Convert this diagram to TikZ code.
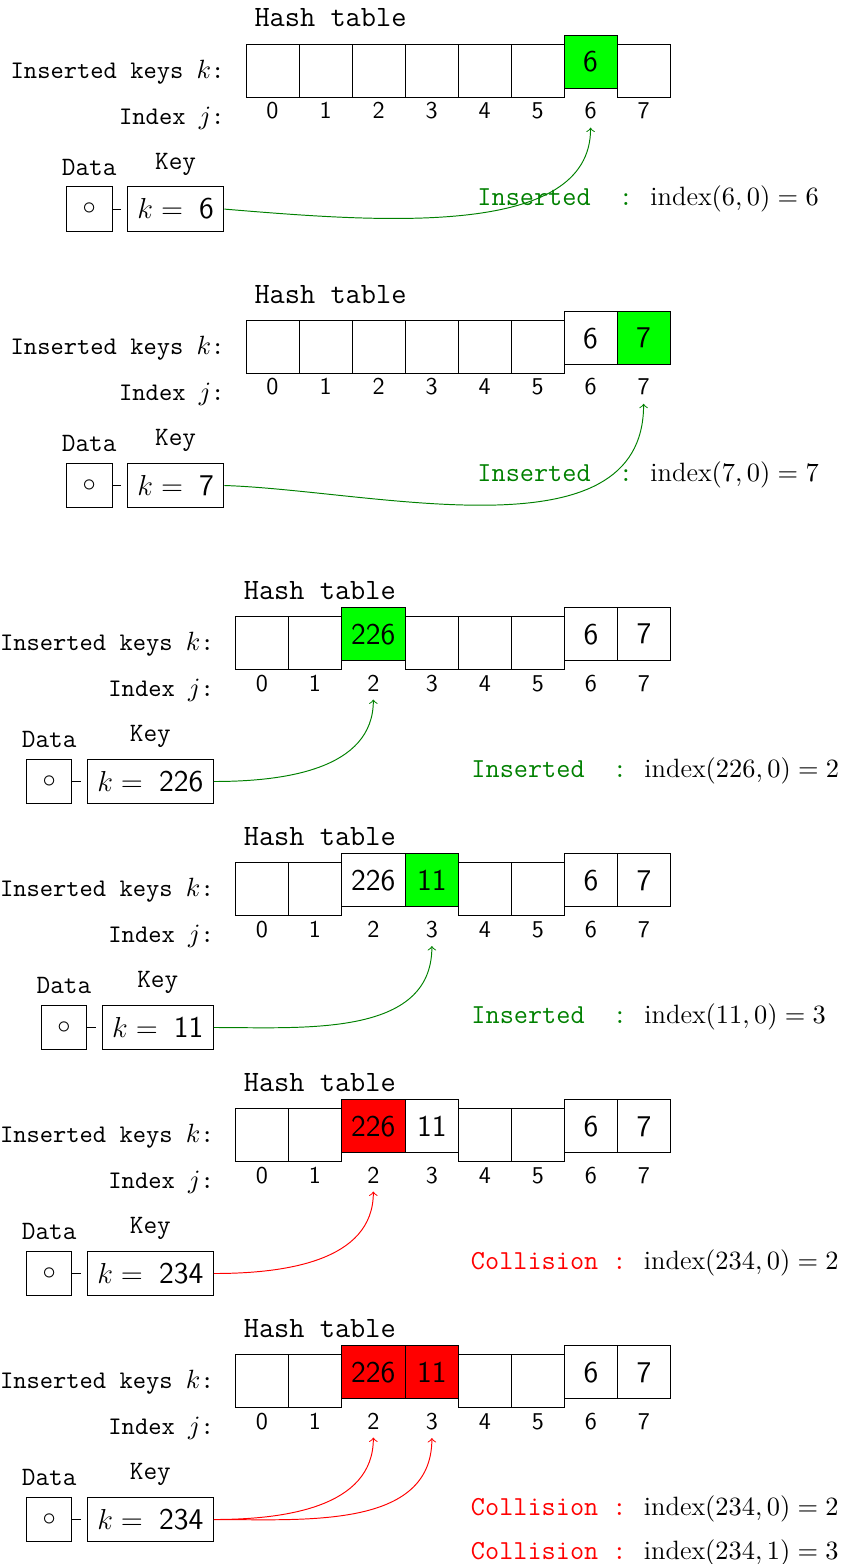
\documentclass[tikz,border=0pt]{standalone}
\usepackage{fontspec}
\usetikzlibrary{positioning}
\colorlet{okgreen}{green!50!black}
\begin{document}
\begin{tikzpicture}[x=0.415pt, y=-0.415pt,
  cell/.style={draw, anchor=west, minimum width=22pt, minimum height=22pt, inner xsep=4.1pt, outer sep=0pt, font=\fontsize{12.5}{14}\selectfont\sffamily},
  free/.style={},
  full/.style={yshift=3.7pt},
  newkey/.style={full, fill=green},
  clash/.style={full, fill=red},
  idx/.style={anchor=base, font=\fontsize{10}{12}\selectfont\sffamily},
  lab/.style={anchor=base east, inner sep=0pt, font=\fontsize{10.5}{12}\selectfont\ttfamily},
  title/.style={anchor=south west, font=\fontsize{12.25}{14}\selectfont\ttfamily},
  databox/.style={draw, minimum width=18.9pt, minimum height=18.4pt, inner sep=0pt, font=\fontsize{11}{13}\selectfont},
  keybox/.style={draw, anchor=east, minimum height=18.4pt, inner xsep=4.1pt, font=\fontsize{12}{14}\selectfont},
  boxlab/.style={font=\fontsize{11}{13}\selectfont\ttfamily},
  status/.style={anchor=base west, inner sep=0pt, font=\fontsize{11}{13}\selectfont},
  okarrow/.style={->, okgreen},
  badarrow/.style={->, red}
]
\useasboundingbox (0,0) rectangle (844,1564);

% 1: key 6
\coordinate (r1) at (246,70.8);
\coordinate (j1) at (246,118.6);
\node[cell] (t1c0) at (r1) {};
\foreach \v/\s [count=\i from 1, remember=\i as \j (initially 0)] in {/free,/free,/free,/free,/free,6/newkey,/free}
  \node[cell,\s] (t1c\i) at (t1c\j.east |- r1) {\v};
\foreach \i in {0,...,7} \node[idx] (t1i\i) at (t1c\i.center |- j1) {\i};
\node[title] (h1) at ([yshift=3.7pt]t1c0.north west) {Hash table};
\node[lab] (rowk1) at (225,78.3) {Inserted keys $k$:};
\node[lab] (rowj1) at (225,124.3) {Index $j$:};
\node[keybox] (k1) at (224.3,209.1) {$k =$\hspace{6.7pt}{\fontsize{12.5}{14}\selectfont\sffamily 6}};
\node[databox, left=6pt of k1] (d1) {$\circ$};
\node[boxlab, above=1pt of d1] (dlab1) {Data};
\node[boxlab, above=1pt of k1] (klab1) {Key};
\draw (d1.east) -- ([xshift=-2.5pt]k1.west);
\node[status] (s1) at (477,205.3) {{\color{okgreen}\fontsize{11.4}{13}\selectfont\texttt{Inserted\ \ :}}\hspace{7.2pt}$\mathrm{index}(6,0)=6$};
\draw[okarrow] (k1.east) .. controls +(156,13) and +(0,111) .. (t1i6.south);

% 2: key 7
\coordinate (r2) at (246,347.2);
\coordinate (j2) at (246,395);
\node[cell] (t2c0) at (r2) {};
\foreach \v/\s [count=\i from 1, remember=\i as \j (initially 0)] in {/free,/free,/free,/free,/free,6/full,7/newkey}
  \node[cell,\s] (t2c\i) at (t2c\j.east |- r2) {\v};
\foreach \i in {0,...,7} \node[idx] (t2i\i) at (t2c\i.center |- j2) {\i};
\node[title] (h2) at ([yshift=3.7pt]t2c0.north west) {Hash table};
\node[lab] (rowk2) at (225,354.7) {Inserted keys $k$:};
\node[lab] (rowj2) at (225,400.7) {Index $j$:};
\node[keybox] (k2) at (224.3,485.5) {$k =$\hspace{6.7pt}{\fontsize{12.5}{14}\selectfont\sffamily 7}};
\node[databox, left=6pt of k2] (d2) {$\circ$};
\node[boxlab, above=1pt of d2] (dlab2) {Data};
\node[boxlab, above=1pt of k2] (klab2) {Key};
\draw (d2.east) -- ([xshift=-2.5pt]k2.west);
\node[status] (s2) at (477,481.7) {{\color{okgreen}\fontsize{11.4}{13}\selectfont\texttt{Inserted\ \ :}}\hspace{7.2pt}$\mathrm{index}(7,0)=7$};
\draw[okarrow] (k2.east) .. controls +(150,5) and +(0,156) .. (t2i7.south);

% 3: key 226
\coordinate (r3) at (235.3,643.2);
\coordinate (j3) at (235.3,691);
\node[cell] (t3c0) at (r3) {};
\foreach \v/\s [count=\i from 1, remember=\i as \j (initially 0)] in {/free,226/newkey,/free,/free,/free,6/full,7/full}
  \node[cell,\s] (t3c\i) at (t3c\j.east |- r3) {\v};
\foreach \i in {0,...,7} \node[idx] (t3i\i) at (t3c\i.center |- j3) {\i};
\node[title] (h3) at ([yshift=3.7pt]t3c0.north west) {Hash table};
\node[lab] (rowk3) at (214.3,650.7) {Inserted keys $k$:};
\node[lab] (rowj3) at (214.3,696.7) {Index $j$:};
\node[keybox] (k3) at (213.8,781.5) {$k =$\hspace{6.7pt}{\fontsize{12.5}{14}\selectfont\sffamily 226}};
\node[databox, left=6pt of k3] (d3) {$\circ$};
\node[boxlab, above=1pt of d3] (dlab3) {Data};
\node[boxlab, above=1pt of k3] (klab3) {Key};
\draw (d3.east) -- ([xshift=-2.5pt]k3.west);
\node[status] (s3) at (471,777.3) {{\color{okgreen}\fontsize{11.4}{13}\selectfont\texttt{Inserted\ \ :}}\hspace{7.2pt}$\mathrm{index}(226,0)=2$};
\draw[okarrow] (k3.east) to[out=0, in=-90] (t3i2.south);

% 4: key 11
\coordinate (r4) at (235.3,889.2);
\coordinate (j4) at (235.3,937);
\node[cell] (t4c0) at (r4) {};
\foreach \v/\s [count=\i from 1, remember=\i as \j (initially 0)] in {/free,226/full,11/newkey,/free,/free,6/full,7/full}
  \node[cell,\s] (t4c\i) at (t4c\j.east |- r4) {\v};
\foreach \i in {0,...,7} \node[idx] (t4i\i) at (t4c\i.center |- j4) {\i};
\node[title] (h4) at ([yshift=3.7pt]t4c0.north west) {Hash table};
\node[lab] (rowk4) at (214.3,896.7) {Inserted keys $k$:};
\node[lab] (rowj4) at (214.3,942.7) {Index $j$:};
\node[keybox] (k4) at (213.8,1027.5) {$k =$\hspace{6.7pt}{\fontsize{12.5}{14}\selectfont\sffamily 11}};
\node[databox, left=6pt of k4] (d4) {$\circ$};
\node[boxlab, above=1pt of d4] (dlab4) {Data};
\node[boxlab, above=1pt of k4] (klab4) {Key};
\draw (d4.east) -- ([xshift=-2.5pt]k4.west);
\node[status] (s4) at (471,1023.7) {{\color{okgreen}\fontsize{11.4}{13}\selectfont\texttt{Inserted\ \ :}}\hspace{7.2pt}$\mathrm{index}(11,0)=3$};
\draw[okarrow] (k4.east) to[out=0, in=-90] (t4i3.south);

% 5: key 234, first try
\coordinate (r5) at (235.3,1135.2);
\coordinate (j5) at (235.3,1183);
\node[cell] (t5c0) at (r5) {};
\foreach \v/\s [count=\i from 1, remember=\i as \j (initially 0)] in {/free,226/clash,11/full,/free,/free,6/full,7/full}
  \node[cell,\s] (t5c\i) at (t5c\j.east |- r5) {\v};
\foreach \i in {0,...,7} \node[idx] (t5i\i) at (t5c\i.center |- j5) {\i};
\node[title] (h5) at ([yshift=3.7pt]t5c0.north west) {Hash table};
\node[lab] (rowk5) at (214.3,1142.7) {Inserted keys $k$:};
\node[lab] (rowj5) at (214.3,1188.7) {Index $j$:};
\node[keybox] (k5) at (213.8,1273.5) {$k =$\hspace{6.7pt}{\fontsize{12.5}{14}\selectfont\sffamily 234}};
\node[databox, left=6pt of k5] (d5) {$\circ$};
\node[boxlab, above=1pt of d5] (dlab5) {Data};
\node[boxlab, above=1pt of k5] (klab5) {Key};
\draw (d5.east) -- ([xshift=-2.5pt]k5.west);
\node[status] (s5) at (470.5,1269.7) {{\color{red}\fontsize{11.4}{13}\selectfont\texttt{Collision :}}\hspace{7.2pt}$\mathrm{index}(234,0)=2$};
\draw[badarrow] (k5.east) to[out=0, in=-90] (t5i2.south);

% 6: key 234, probing
\coordinate (r6) at (235.3,1381.2);
\coordinate (j6) at (235.3,1429);
\node[cell] (t6c0) at (r6) {};
\foreach \v/\s [count=\i from 1, remember=\i as \j (initially 0)] in {/free,226/clash,11/clash,/free,/free,6/full,7/full}
  \node[cell,\s] (t6c\i) at (t6c\j.east |- r6) {\v};
\foreach \i in {0,...,7} \node[idx] (t6i\i) at (t6c\i.center |- j6) {\i};
\node[title] (h6) at ([yshift=3.7pt]t6c0.north west) {Hash table};
\node[lab] (rowk6) at (214.3,1388.7) {Inserted keys $k$:};
\node[lab] (rowj6) at (214.3,1434.7) {Index $j$:};
\node[keybox] (k6) at (213.8,1519.5) {$k =$\hspace{6.7pt}{\fontsize{12.5}{14}\selectfont\sffamily 234}};
\node[databox, left=6pt of k6] (d6) {$\circ$};
\node[boxlab, above=1pt of d6] (dlab6) {Data};
\node[boxlab, above=1pt of k6] (klab6) {Key};
\draw (d6.east) -- ([xshift=-2.5pt]k6.west);
\node[status] (s6a) at (470.5,1515.7) {{\color{red}\fontsize{11.4}{13}\selectfont\texttt{Collision :}}\hspace{7.2pt}$\mathrm{index}(234,0)=2$};
\node[status] (s6b) at (470.5,1559.5) {{\color{red}\fontsize{11.4}{13}\selectfont\texttt{Collision :}}\hspace{7.2pt}$\mathrm{index}(234,1)=3$};
\draw[badarrow] (k6.east) to[out=0, in=-90] (t6i2.south);
\draw[badarrow] (k6.east) to[out=0, in=-90] (t6i3.south);
\end{tikzpicture}
\end{document}
